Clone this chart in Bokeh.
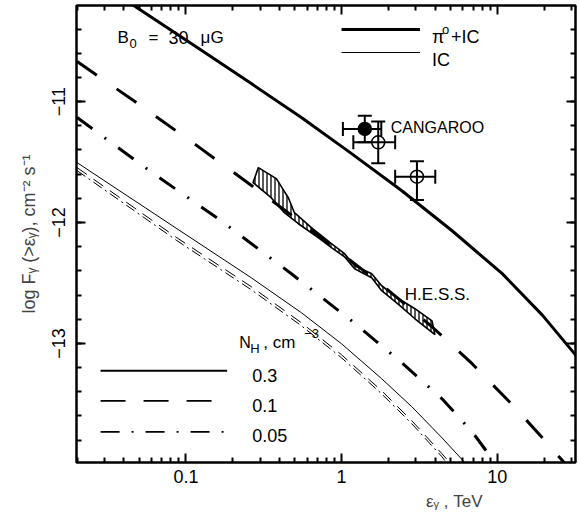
import math
from bokeh.plotting import figure
from bokeh.models import (LinearAxis, LogAxis, FixedTicker, SingleIntervalTicker, Title,
                          CustomJSTickFormatter, Label, Whisker, TeeHead, ColumnDataSource)
from bokeh.embed import file_html
from bokeh.resources import INLINE

# ---------------- data (energies in TeV, log10 of integral flux) ----------------
# pi0 + IC, N_H = 0.3 / 0.1 / 0.05 cm^-3
sum_03_E = [0.02, 0.0462, 0.125, 0.263, 0.552, 1.16, 2.44, 5.13, 10.77, 19.5, 32.8]
sum_03_logF = [-9.891, -10.205, -10.574, -10.851, -11.132, -11.43, -11.737, -12.068, -12.423, -12.766, -13.115]

sum_01_E = [0.02, 0.0513, 0.125, 0.305, 0.743, 1.81, 3.81, 6.9, 12.5, 19.5, 26.3, 32.8]
sum_01_logF = [-10.669, -11.033, -11.389, -11.753, -12.126, -12.515, -12.862, -13.168, -13.507, -13.78, -13.971, -14.12]

sum_005_E = [0.02, 0.0594, 0.168, 0.476, 1.16, 2.44, 4.42, 6.9, 9.7, 14.5]
sum_005_logF = [-11.132, -11.579, -11.985, -12.424, -12.813, -13.16, -13.458, -13.731, -13.988, -14.18]

# IC only
ic_03_E = [0.02, 0.0875, 0.263, 0.552, 1.0, 1.81, 2.83, 4.42, 6.22, 8.0]
ic_03_logF = [-11.505, -12.051, -12.457, -12.746, -13.003, -13.292, -13.524, -13.781, -13.988, -14.14]
ic_01_E = [0.02, 0.0875, 0.263, 0.552, 1.0, 1.81, 2.83, 4.42, 4.9, 5.94]
ic_01_logF = [-11.546, -12.126, -12.531, -12.829, -13.094, -13.392, -13.64, -13.913, -13.979, -14.10]
ic_005_E = [0.02, 0.0875, 0.263, 0.552, 1.0, 1.81, 2.83, 4.42, 4.62, 5.52]
ic_005_logF = [-11.571, -12.15, -12.556, -12.854, -13.119, -13.417, -13.665, -13.938, -13.971, -14.10]

# H.E.S.S. band
hess_up_E = [0.292, 0.381, 0.455, 0.498, 0.64, 0.861, 1.045, 1.213, 1.563, 1.81, 2.33, 2.96, 3.81]
hess_up_logF = [-11.546, -11.637, -11.795, -11.919, -12.043, -12.175, -12.258, -12.357, -12.424, -12.523, -12.631, -12.713, -12.813]
hess_lo_E = [0.27, 0.353, 0.429, 0.528, 0.711, 0.861, 1.045, 1.213, 1.563, 1.81, 2.33, 2.96, 3.98]
hess_lo_logF = [-11.67, -11.795, -11.919, -12.01, -12.126, -12.208, -12.283, -12.382, -12.457, -12.564, -12.68, -12.796, -12.928]

# CANGAROO points
cang_E = [1.41, 1.72, 3.05]
cang_logF = [-11.226, -11.337, -11.621]
cang_E_lo = [1.02, 1.19, 2.21]
cang_E_hi = [1.80, 2.21, 4.0]
cang_F_lo = [-11.336, -11.51, -11.814]
cang_F_hi = [-11.116, -11.164, -11.494]
cang_filled = [True, False, False]

x_major = [0.1, 1, 10]
x_minor = [0.02, 0.03, 0.04, 0.05, 0.06, 0.07, 0.08, 0.09,
           0.2, 0.3, 0.4, 0.5, 0.6, 0.7, 0.8, 0.9,
           2, 3, 4, 5, 6, 7, 8, 9, 20, 30]

nh_labels = ["0.3", "0.1", "0.05"]

FONT = "Liberation Sans"

p = figure(x_axis_type="log", x_range=(0.01982, 31.84), y_range=(-13.985, -10.205),
           width=577, height=515, min_border_left=76, min_border_right=2,
           min_border_top=5, min_border_bottom=53,
           output_backend="svg", toolbar_location=None)
p.grid.visible = False
p.outline_line_color = "black"
p.outline_line_width = 2.5
p.background_fill_color = "white"
p.border_fill_color = "white"

xt = FixedTicker(ticks=x_major, minor_ticks=x_minor)
yt = SingleIntervalTicker(interval=1, num_minor_ticks=5)


def style_axis(ax, labels=True):
    ax.axis_line_color = None
    ax.major_tick_in = 9
    ax.major_tick_out = 0
    ax.minor_tick_in = 5
    ax.minor_tick_out = 0
    ax.major_tick_line_width = 2
    ax.minor_tick_line_width = 2
    ax.major_tick_line_color = "black"
    ax.minor_tick_line_color = "black"
    ax.major_label_text_font = FONT
    if labels:
        ax.major_label_text_font_size = "18px"
        ax.major_label_text_color = "black"
    else:
        ax.major_label_text_font_size = "1px"
        ax.major_label_text_alpha = 0
        ax.major_label_standoff = 0


xax = p.xaxis[0]
xax.ticker = xt
xax.formatter = CustomJSTickFormatter(code="return tick.toString();")
style_axis(xax)
xax.major_label_standoff = 7

yax = p.yaxis[0]
yax.ticker = yt
yax.formatter = CustomJSTickFormatter(code="return (tick < 0 ? '\u2212' : '') + Math.abs(tick).toFixed(0);")
style_axis(yax)
yax.major_label_orientation = "vertical"
yax.major_label_standoff = 11
yax.axis_label = "log F\u1d67 (>\u03b5\u1d67), cm\u207b\u00b2 s\u207b\u00b9"
yax.axis_label_text_font = FONT
yax.axis_label_text_font_size = "18px"
yax.axis_label_text_font_style = "normal"
yax.axis_label_standoff = 11

top = LogAxis(ticker=xt)
style_axis(top, labels=False)
p.add_layout(top, "above")
right = LinearAxis(ticker=yt)
style_axis(right, labels=False)
p.add_layout(right, "right")

# x-axis title, right of centre as in the original
p.add_layout(Title(text="\u03b5\u1d67 , TeV", align="right", offset=93,
                   text_font=FONT, text_font_size="17px", text_font_style="normal",
                   standoff=8), "below")

# ---------------- curves ----------------
p.line(sum_03_E, sum_03_logF, line_color="black", line_width=3)
p.line(sum_01_E, sum_01_logF, line_color="black", line_width=3, line_dash="24 24")
p.line(sum_005_E, sum_005_logF, line_color="black", line_width=3, line_dash="19 15 2 15")
p.line(ic_03_E, ic_03_logF, line_color="black", line_width=1)
p.line(ic_01_E, ic_01_logF, line_color="black", line_width=1, line_dash="12 8")
p.line(ic_005_E, ic_005_logF, line_color="black", line_width=1, line_dash="10 4 2 4")

# HESS band
p.patch(hess_up_E + hess_lo_E[::-1], hess_up_logF + hess_lo_logF[::-1],
        fill_alpha=0, line_color="black", line_width=1.6,
        hatch_pattern="|", hatch_color="black", hatch_scale=4, hatch_weight=1.3)

# CANGAROO points
src = ColumnDataSource(dict(E=cang_E, F=cang_logF, Elo=cang_E_lo, Ehi=cang_E_hi,
                            Flo=cang_F_lo, Fhi=cang_F_hi,
                            fc=["black" if f else None for f in cang_filled]))
p.add_layout(Whisker(source=src, base="E", upper="Fhi", lower="Flo", dimension="height",
                     line_width=2, line_color="black",
                     upper_head=TeeHead(size=14, line_width=2),
                     lower_head=TeeHead(size=14, line_width=2)))
p.add_layout(Whisker(source=src, base="F", upper="Ehi", lower="Elo", dimension="width",
                     line_width=2, line_color="black",
                     upper_head=TeeHead(size=14, line_width=2),
                     lower_head=TeeHead(size=14, line_width=2)))
p.scatter("E", "F", source=src, marker="circle", size=13, fill_color="fc",
          line_color="black", line_width=1.5)

# ---------------- legends (drawn in the plot) ----------------
leg_top_E = [1.0, 3.19]
p.line(leg_top_E, [-10.404, -10.404], line_color="black", line_width=3)
p.line(leg_top_E, [-10.594, -10.594], line_color="black", line_width=1)

leg_bot_E = [0.0283, 0.184]
p.line(leg_bot_E, [-13.226, -13.226], line_color="black", line_width=1.8)
p.line(leg_bot_E, [-13.475, -13.475], line_color="black", line_width=1.8, line_dash="25 18")
p.line(leg_bot_E, [-13.731, -13.731], line_color="black", line_width=1.8, line_dash="19 12 2 12")


def txt(x, y, s, size=16, dx=0, dy=0):
    p.add_layout(Label(x=x, y=y, text=s, x_offset=dx, y_offset=dy,
                       text_font=FONT, text_font_size=f"{size}px",
                       text_color="black", text_baseline="alphabetic",
                       text_align="left"))


# B0 = 30 muG
txt(0.0364, -10.47, "B", size=17)
txt(0.0364, -10.47, "0", size=13, dx=12, dy=-6)
txt(0.0364, -10.47, "=", size=17, dx=31)
txt(0.0364, -10.47, "30", size=18, dx=51)
txt(0.0364, -10.47, "\u03bcG", size=17, dx=83)

# pi0 + IC, IC
txt(3.81, -10.462, "\u03c0", size=18)
txt(3.81, -10.462, "o", size=13, dx=10, dy=7)
txt(3.81, -10.462, "+IC", size=18, dx=19)
txt(3.81, -10.652, "IC", size=18)

txt(2.07, -11.215, "CANGAROO", size=16)
txt(2.55, -12.597, "H.E.S.S.", size=17)

# N_H, cm^-3
txt(0.22, -12.995, "N", size=16)
txt(0.22, -12.995, "H", size=13, dx=11, dy=-6)
txt(0.22, -12.995, ", cm", size=17, dx=24)
txt(0.22, -12.995, "\u22123", size=13, dx=65, dy=9)

for lbl, yy in zip(nh_labels, [-13.268, -13.516, -13.764]):
    txt(0.267, yy, lbl, size=18)

open("out.html", "w").write(file_html(p, INLINE))
